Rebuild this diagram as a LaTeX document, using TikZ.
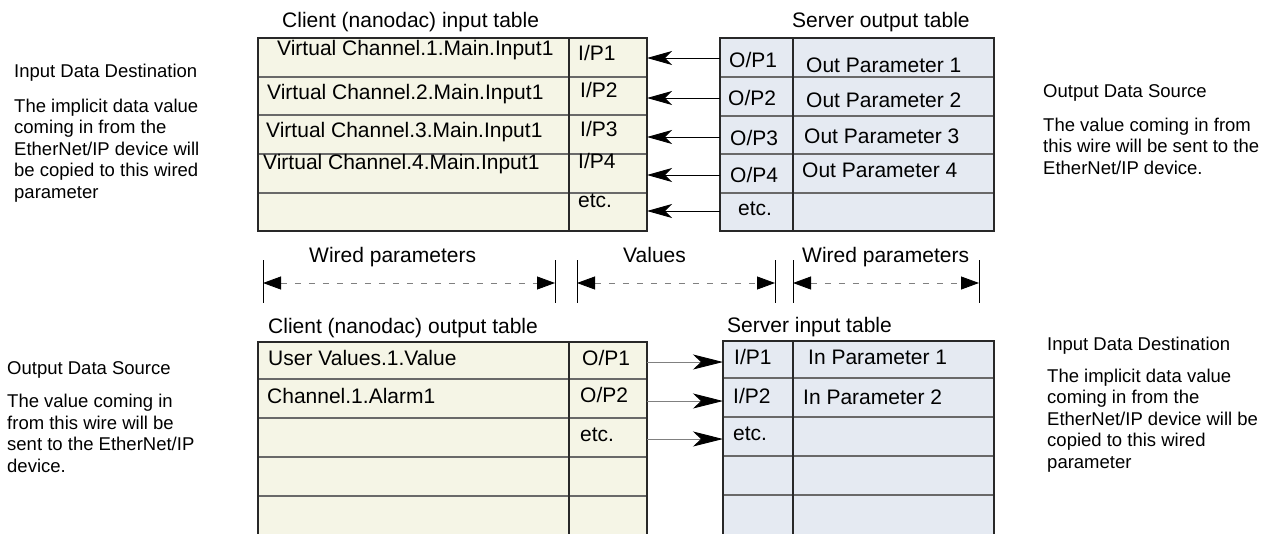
\documentclass[tikz,border=0pt]{standalone}
\usepackage{fontspec}
\setmainfont{Liberation Sans}
\usetikzlibrary{arrows.meta}
\definecolor{cream}{RGB}{245,245,230}
\definecolor{pale}{RGB}{229,234,242}
\definecolor{border}{RGB}{40,40,40}
\definecolor{rule}{RGB}{105,105,105}
\begin{document}
\begin{tikzpicture}[x=1pt,y=-1pt,
 txt/.style={anchor=base west, inner sep=0pt, font=\fontsize{21}{25}\selectfont},
 side/.style={anchor=base west, inner sep=0pt, align=left, font=\fontsize{18.5}{21.5}\selectfont},
 outer/.style={draw=border, line width=2.4pt},
 rowline/.style={draw=rule, line width=1.2pt},
 coldiv/.style={draw=border, line width=1.2pt},
 wire/.style={draw=black, line width=0.9pt, -{Stealth[length=25pt,width=14pt,inset=7pt]}},
 wiretwo/.style={draw=gray, line width=0.9pt, -{Stealth[length=30pt,width=15pt,inset=8pt,black]}},
 dimline/.style={draw=gray, line width=0.8pt, dash pattern=on 6pt off 8pt,
   {Triangle[length=18pt,width=13pt,black]}-{Triangle[length=18pt,width=13pt,black]}},
 tickline/.style={draw=black, line width=1pt}]
\clip (0,0) rectangle (1268,533);

% ---------- top-left table: Client input table
\fill[cream] (258,38) rectangle (647,231);
\foreach \y in {77,115,154,193} \draw[rowline] (258,\y) -- (647,\y);
\draw[coldiv] (569,38) -- (569,231);
\draw[outer] (258,38) rectangle (647,231);
\node[txt] (cit) at (282,27) {Client (nanodac) input table};
\node[txt] (ci1) at (277,55) {Virtual Channel.1.Main.Input1};
\node[txt] (ci2) at (267,99) {Virtual Channel.2.Main.Input1};
\node[txt] (ci3) at (266,137) {Virtual Channel.3.Main.Input1};
\node[txt] (ci4) at (263,169) {Virtual Channel.4.Main.Input1};
\node[txt] (cip1) at (578,60) {I/P1};
\node[txt] (cip2) at (580,97) {I/P2};
\node[txt] (cip3) at (580,136) {I/P3};
\node[txt] (cip4) at (578,168) {I/P4};
\node[txt] (cip5) at (578,207) {etc.};

% ---------- top-right table: Server output table
\fill[pale] (720,38) rectangle (994,231);
\foreach \y in {77,116,154,193} \draw[rowline] (720,\y) -- (994,\y);
\draw[coldiv] (793,38) -- (793,231);
\draw[outer] (720,38) rectangle (994,231);
\node[txt] (sot) at (792,27) {Server output table};
\node[txt] (sop1) at (729,67) {O/P1};
\node[txt] (sop2) at (728,105) {O/P2};
\node[txt] (sop3) at (730,145) {O/P3};
\node[txt] (sop4) at (730,182) {O/P4};
\node[txt] (sop5) at (738,215) {etc.};
\node[txt] (so1) at (806,72) {Out Parameter 1};
\node[txt] (so2) at (806,107) {Out Parameter 2};
\node[txt] (so3) at (804,143) {Out Parameter 3};
\node[txt] (so4) at (802,177) {Out Parameter 4};

% top wires
\foreach \i/\y in {1/58,2/98,3/137,4/175,5/211}{
  \coordinate (tsrc\i) at (720,\y);
  \coordinate (tdst\i) at (647,\y);
  \draw[wire] (tsrc\i) -- (tdst\i);
}

% ---------- dimension lines
\foreach \n/\x in {a/263,b/555,c/577,d/775,e/793,f/979}{
  \coordinate (\n top) at (\x,260);
  \coordinate (\n bot) at (\x,303);
  \coordinate (\n mid) at (\x,283);
  \draw[tickline] (\n top) -- (\n bot);
}
\draw[dimline] (amid) -- (bmid);
\draw[dimline] (cmid) -- (dmid);
\draw[dimline] (emid) -- (fmid);
\node[txt] (dl1) at (309,262) {Wired parameters};
\node[txt] (dl2) at (623,262) {Values};
\node[txt] (dl3) at (802,262) {Wired parameters};

% ---------- bottom-left table: Client output table
\fill[cream] (258,342) rectangle (647,545);
\foreach \y in {379,418,457,496} \draw[rowline] (258,\y) -- (647,\y);
\draw[coldiv] (569,342) -- (569,545);
\draw[outer] (258,545) -- (258,342) -- (647,342) -- (647,545);
\node[txt] (cot) at (268,333) {Client (nanodac) output table};
\node[txt] (co1) at (268,365) {User Values.1.Value};
\node[txt] (co2) at (267,403) {Channel.1.Alarm1};
\node[txt] (cop1) at (582,365) {O/P1};
\node[txt] (cop2) at (580,402) {O/P2};
\node[txt] (cop3) at (580,441) {etc.};

% ---------- bottom-right table: Server input table
\fill[pale] (723,341) rectangle (994,545);
\foreach \y in {378,417,456,495} \draw[rowline] (723,\y) -- (994,\y);
\draw[coldiv] (793,341) -- (793,545);
\draw[outer] (723,545) -- (723,341) -- (994,341) -- (994,545);
\node[txt] (sit) at (727,332) {Server input table};
\node[txt] (sip1) at (734,364) {I/P1};
\node[txt] (sip2) at (733,403) {I/P2};
\node[txt] (sip3) at (733,440) {etc.};
\node[txt] (si1) at (808,364) {In Parameter 1};
\node[txt] (si2) at (803,404) {In Parameter 2};

% bottom wires
\foreach \i/\y in {1/362,2/401,3/439}{
  \coordinate (bsrc\i) at (647,\y);
  \coordinate (bdst\i) at (723,\y);
  \draw[wiretwo] (bsrc\i) -- (bdst\i);
}

% ---------- side notes (multi-line nodes: base = last line)
\node[side] (n1h) at (14,77) {Input Data Destination};
\node[side] (n1) at (14,198) {The implicit data value\\coming in from the\\EtherNet/IP device will\\be copied to this wired\\parameter};
\node[side] (n2h) at (1043,97) {Output Data Source};
\node[side] (n2) at (1043,174) {The value coming in from\\this wire will be sent to the\\EtherNet/IP device.};
\node[side] (n3h) at (7,374) {Output Data Source};
\node[side] (n3) at (7,472) {The value coming in\\from this wire will be\\sent to the EtherNet/IP\\device.};
\node[side] (n4h) at (1047,350) {Input Data Destination};
\node[side] (n4) at (1047,468) {The implicit data value\\coming in from the\\EtherNet/IP device will be\\copied to this wired\\parameter};
\end{tikzpicture}
\end{document}
